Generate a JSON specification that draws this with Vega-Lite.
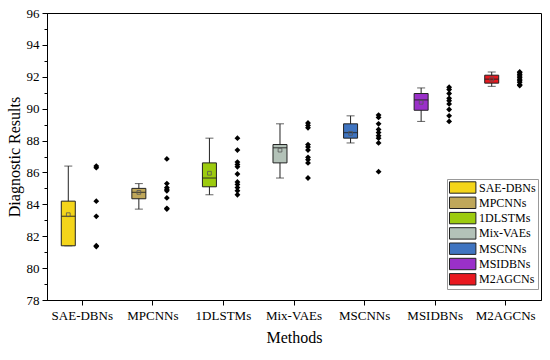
{
  "$schema": "https://vega.github.io/schema/vega-lite/v6.json",
  "width": 494,
  "height": 287,
  "autosize": "none",
  "padding": {"left": 47, "top": 13, "right": 9, "bottom": 60},
  "background": "white",
  "config": {
    "font": "Liberation Serif",
    "view": {"stroke": "black", "strokeWidth": 1},
    "axis": {"domainColor": "black", "tickColor": "black", "labelColor": "black", "titleColor": "black", "grid": false, "labelFont": "Liberation Serif", "titleFont": "Liberation Serif", "titleFontWeight": "normal"},
    "legend": {"labelFont": "Liberation Serif"}
  },
  "datasets": {
    "stats": [
      {"method": "SAE-DBNs", "min": 81.4, "q1": 81.4, "median": 83.25, "q3": 84.2, "max": 86.4, "mean": 83.35},
      {"method": "MPCNNs", "min": 83.7, "q1": 84.35, "median": 84.75, "q3": 85.0, "max": 85.3, "mean": 84.75},
      {"method": "1DLSTMs", "min": 84.6, "q1": 85.1, "median": 85.65, "q3": 86.6, "max": 88.15, "mean": 85.95},
      {"method": "Mix-VAEs", "min": 85.65, "q1": 86.6, "median": 87.55, "q3": 87.75, "max": 89.05, "mean": 87.4},
      {"method": "MSCNNs", "min": 87.85, "q1": 88.15, "median": 88.5, "q3": 89.05, "max": 89.55, "mean": 88.45},
      {"method": "MSIDBNs", "min": 89.2, "q1": 89.9, "median": 90.55, "q3": 90.95, "max": 91.3, "mean": 90.4},
      {"method": "M2AGCNs", "min": 91.4, "q1": 91.6, "median": 91.85, "q3": 92.1, "max": 92.3, "mean": 91.85}
    ],
    "points": [
      {"method": "SAE-DBNs", "value": 86.4}, {"method": "SAE-DBNs", "value": 86.3}, {"method": "SAE-DBNs", "value": 84.2}, {"method": "SAE-DBNs", "value": 83.25}, {"method": "SAE-DBNs", "value": 81.4}, {"method": "SAE-DBNs", "value": 81.35},
      {"method": "MPCNNs", "value": 86.85}, {"method": "MPCNNs", "value": 85.3}, {"method": "MPCNNs", "value": 85.05}, {"method": "MPCNNs", "value": 84.95}, {"method": "MPCNNs", "value": 84.85}, {"method": "MPCNNs", "value": 84.4}, {"method": "MPCNNs", "value": 83.75}, {"method": "MPCNNs", "value": 83.7},
      {"method": "1DLSTMs", "value": 88.15}, {"method": "1DLSTMs", "value": 87.4}, {"method": "1DLSTMs", "value": 86.65}, {"method": "1DLSTMs", "value": 86.5}, {"method": "1DLSTMs", "value": 86.35}, {"method": "1DLSTMs", "value": 85.9}, {"method": "1DLSTMs", "value": 85.4}, {"method": "1DLSTMs", "value": 85.25}, {"method": "1DLSTMs", "value": 85.05}, {"method": "1DLSTMs", "value": 84.85}, {"method": "1DLSTMs", "value": 84.6},
      {"method": "Mix-VAEs", "value": 89.1}, {"method": "Mix-VAEs", "value": 88.95}, {"method": "Mix-VAEs", "value": 88.8}, {"method": "Mix-VAEs", "value": 87.75}, {"method": "Mix-VAEs", "value": 87.6}, {"method": "Mix-VAEs", "value": 87.4}, {"method": "Mix-VAEs", "value": 86.95}, {"method": "Mix-VAEs", "value": 86.8}, {"method": "Mix-VAEs", "value": 86.6}, {"method": "Mix-VAEs", "value": 85.65},
      {"method": "MSCNNs", "value": 89.6}, {"method": "MSCNNs", "value": 89.45}, {"method": "MSCNNs", "value": 89.05}, {"method": "MSCNNs", "value": 88.7}, {"method": "MSCNNs", "value": 88.5}, {"method": "MSCNNs", "value": 88.3}, {"method": "MSCNNs", "value": 88.15}, {"method": "MSCNNs", "value": 87.85}, {"method": "MSCNNs", "value": 86.05},
      {"method": "MSIDBNs", "value": 91.35}, {"method": "MSIDBNs", "value": 91.2}, {"method": "MSIDBNs", "value": 90.95}, {"method": "MSIDBNs", "value": 90.65}, {"method": "MSIDBNs", "value": 90.5}, {"method": "MSIDBNs", "value": 90.3}, {"method": "MSIDBNs", "value": 89.95}, {"method": "MSIDBNs", "value": 89.55}, {"method": "MSIDBNs", "value": 89.2},
      {"method": "M2AGCNs", "value": 92.3}, {"method": "M2AGCNs", "value": 92.25}, {"method": "M2AGCNs", "value": 92.15}, {"method": "M2AGCNs", "value": 92.05}, {"method": "M2AGCNs", "value": 91.95}, {"method": "M2AGCNs", "value": 91.85}, {"method": "M2AGCNs", "value": 91.75}, {"method": "M2AGCNs", "value": 91.65}, {"method": "M2AGCNs", "value": 91.5}, {"method": "M2AGCNs", "value": 91.45}
    ]
  },
  "encoding": {
    "x": {
      "field": "method", "type": "nominal", "sort": null,
      "scale": {"domain": ["SAE-DBNs", "MPCNNs", "1DLSTMs", "Mix-VAEs", "MSCNNs", "MSIDBNs", "M2AGCNs"], "paddingInner": 0, "paddingOuter": 0},
      "axis": {"title": "Methods", "labelAngle": 0, "labelFontSize": 13, "titleFontSize": 16, "tickSize": 5, "bandPosition": 0.5, "labelPadding": 4, "titlePadding": 7, "domainColor": "black"}
    }
  },
  "resolve": {"axis": {"y": "independent"}},
  "layer": [
    {
      "data": {"name": "stats"},
      "mark": {"type": "rule", "color": "#222", "strokeWidth": 1},
      "encoding": {
        "xOffset": {"datum": "box", "scale": {"domain": ["box", "pts"], "paddingInner": 0, "paddingOuter": 0.26}},
        "y": {"field": "min", "type": "quantitative", "scale": {"domain": [78, 96], "nice": false, "zero": false},
          "axis": {"title": "Diagnostic Results", "orient": "left", "values": [78, 80, 82, 84, 86, 88, 90, 92, 94, 96], "labelFontSize": 13, "titleFontSize": 16, "tickSize": 5, "labelPadding": 3, "titlePadding": 4}},
        "y2": {"field": "max"}
      }
    },
    {
      "data": {"name": "stats"},
      "mark": {"type": "tick", "color": "#222", "size": 8, "thickness": 1},
      "encoding": {
        "xOffset": {"datum": "box"},
        "y": {"field": "min", "type": "quantitative", "axis": {"title": null, "orient": "left", "values": [79, 81, 83, 85, 87, 89, 91, 93, 95], "labels": false, "tickSize": 3}}
      }
    },
    {
      "data": {"name": "stats"},
      "mark": {"type": "tick", "color": "#222", "size": 8, "thickness": 1},
      "encoding": {
        "xOffset": {"datum": "box"},
        "y": {"field": "max", "type": "quantitative", "axis": null}
      }
    },
    {
      "data": {"name": "stats"},
      "mark": {"type": "bar", "size": 14, "stroke": "#222", "strokeWidth": 1},
      "encoding": {
        "xOffset": {"datum": "box"},
        "y": {"field": "q1", "type": "quantitative", "axis": null},
        "y2": {"field": "q3"},
        "color": {
          "field": "method", "type": "nominal", "sort": null,
          "scale": {"domain": ["SAE-DBNs", "MPCNNs", "1DLSTMs", "Mix-VAEs", "MSCNNs", "MSIDBNs", "M2AGCNs"],
            "range": ["#F4D51A", "#BFA75A", "#9CCB0E", "#B3C2B8", "#3F74C0", "#9A30C9", "#E8181F"]},
          "legend": {
            "title": null, "orient": "none", "legendX": 400, "legendY": 166,
            "symbolType": "M-1,-0.95H3.4V0.95H-1Z", "symbolSize": 144, "symbolStrokeColor": "#222", "symbolStrokeWidth": 1, "symbolOpacity": 1,
            "labelFontSize": 12, "labelFontWeight": "normal", "labelColor": "black", "labelOffset": 17, "rowPadding": -1.7,
            "strokeColor": "#999", "fillColor": "white", "padding": 2
          }
        }
      }
    },
    {
      "data": {"name": "stats"},
      "mark": {"type": "tick", "color": "#222", "size": 14, "thickness": 1.3},
      "encoding": {
        "xOffset": {"datum": "box"},
        "y": {"field": "median", "type": "quantitative", "axis": null}
      }
    },
    {
      "data": {"name": "stats"},
      "mark": {"type": "point", "shape": "square", "filled": false, "size": 14, "color": "#555", "strokeWidth": 0.8, "opacity": 1},
      "encoding": {
        "xOffset": {"datum": "box"},
        "y": {"field": "mean", "type": "quantitative", "axis": null}
      }
    },
    {
      "data": {"name": "points"},
      "mark": {"type": "point", "shape": "diamond", "filled": true, "size": 34, "color": "black", "opacity": 1},
      "encoding": {
        "xOffset": {"datum": "pts"},
        "y": {"field": "value", "type": "quantitative", "axis": null}
      }
    }
  ]
}
